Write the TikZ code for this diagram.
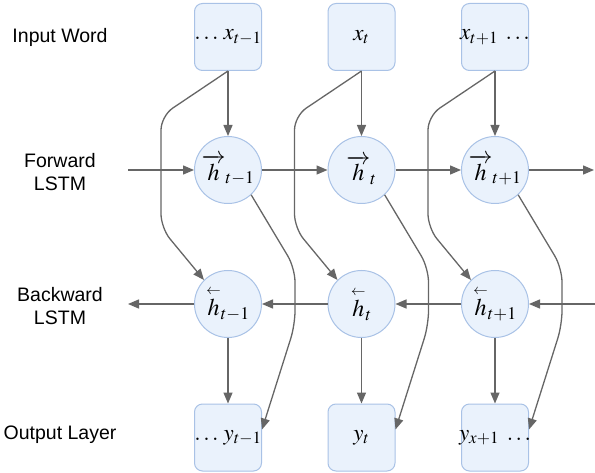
\documentclass[tikz,border=0pt]{standalone}
\usepackage{amsmath}
\usepackage{mathptmx}
\usepackage{fontspec}
\setsansfont{Liberation Sans}
\usetikzlibrary{arrows.meta}
\definecolor{boxfill}{HTML}{EAF2FC}
\definecolor{boxline}{HTML}{A9C2E6}
\definecolor{connc}{HTML}{666666}
\newcommand{\fitbox}[1]{\makebox[60pt][c]{#1}}
\begin{document}
\begin{tikzpicture}[x=1pt,y=-1pt,
  cell/.style={draw=boxline,fill=boxfill,line width=1pt,rounded corners=8pt,minimum width=67pt,minimum height=67pt,inner sep=0pt,font=\fontsize{23}{27}\selectfont},
  state/.style={circle,draw=boxline,fill=boxfill,line width=1pt,minimum size=67pt,inner sep=0pt,font=\fontsize{24}{28}\selectfont},
  lab/.style={font=\sffamily\fontsize{19.5}{23}\selectfont,align=center},
  conn/.style={draw=connc,line width=1.3pt,-{Triangle[length=11pt,width=9pt]}},
  bendconn/.style={conn,rounded corners=14pt}]
\useasboundingbox (0,0) rectangle (595,473);
% labels
\node[lab] (lin) at (60,37) {Input Word};
\node[lab] (lfw) at (60,172) {Forward\\LSTM};
\node[lab] (lbw) at (60,306) {Backward\\LSTM};
\node[lab] (lout) at (60,435) {Output Layer};
% input boxes
\node[cell] (in1) at (228,37) {\fitbox{$\ldots\, x_{t-1}$}};
\node[cell] (in2) at (361.5,37) {\fitbox{$x_t$}};
\node[cell] (in3) at (495,37) {\fitbox{$x_{t+1}\;\ldots$}};
% forward states
\node[state] (f1) at (228,170) {$\overrightarrow{h}_{t-1}$};
\node[state] (f2) at (361.5,170) {$\overrightarrow{h}_{t}$};
\node[state] (f3) at (495,170) {$\overrightarrow{h}_{t+1}$};
% backward states
\node[state] (b1) at (228,304) {$\overset{\scriptscriptstyle\leftarrow}{h}_{t-1}$};
\node[state] (b2) at (361.5,304) {$\overset{\scriptscriptstyle\leftarrow}{h}_{t}$};
\node[state] (b3) at (495,304) {$\overset{\scriptscriptstyle\leftarrow}{h}_{t+1}$};
% outputs
\node[cell] (out1) at (228,437.5) {\fitbox{$\ldots\, y_{t-1}$}};
\node[cell] (out2) at (361.5,437.5) {\fitbox{$y_t$}};
\node[cell] (out3) at (495,437.5) {\fitbox{$y_{x+1}\;\ldots$}};
% free ends
\coordinate (fl) at (128,170);
\coordinate (fr) at (594,170);
\coordinate (bl) at (128,304);
\coordinate (br) at (595,304);
% horizontal connectors
\draw[conn] (fl) -- (f1);
\draw[conn] (f1) -- (f2);
\draw[conn] (f2) -- (f3);
\draw[conn] (f3) -- (fr);
\draw[conn] (br) -- (b3);
\draw[conn] (b3) -- (b2);
\draw[conn] (b2) -- (b1);
\draw[conn] (b1) -- (bl);
% vertical and bent connectors
\foreach \i/\cx in {1/228,2/361.5,3/495}{
  \draw[conn] (in\i) -- (f\i);
  \draw[conn] (b\i) -- (out\i);
  \draw[bendconn] (in\i.south) -- (\cx-67,116) -- (\cx-67,228) -- (b\i.135);
  \draw[bendconn] (f\i.-47) -- (\cx+67,268) -- (\cx+67,325) -- ([yshift=8pt]out\i.east);
}
\end{tikzpicture}
\end{document}
